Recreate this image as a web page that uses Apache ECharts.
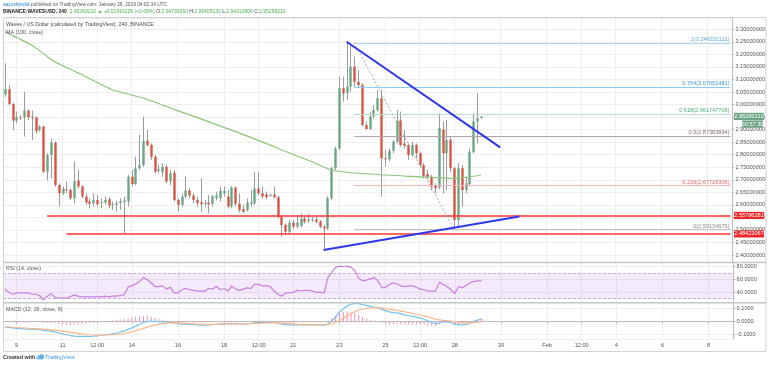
<!DOCTYPE html>
<html><head><meta charset="utf-8">
<script src="https://cdn.jsdelivr.net/npm/echarts@6/dist/echarts.min.js"></script>
<style>html,body{margin:0;padding:0;background:#fff;}#c{width:768px;height:365px;}</style>
</head><body><div id="c"></div>
<script>
// ---------------- DATA ----------------
const startTime = '2019-01-08 12:00';      // first 4h candle (UTC)
const slotCount = 190;                      // 4h slots shown on the time axis

const tickTimes = ['2019-01-09 00:00','2019-01-11 00:00','2019-01-12 12:00','2019-01-14 00:00','2019-01-16 00:00','2019-01-18 00:00','2019-01-19 12:00','2019-01-21 00:00','2019-01-23 00:00','2019-01-25 00:00','2019-01-26 12:00','2019-01-28 00:00','2019-01-30 00:00','2019-02-01 00:00','2019-02-02 12:00','2019-02-04 00:00','2019-02-06 00:00','2019-02-08 00:00'];
const tickLabels = ['9','11','12:00','14','16','18','12:00','21','23','25','12:00','28','30','Feb','12:00','4','6','8'];

const openP = [
3.041,3.061,3.002,2.936,2.949,2.948,2.976,2.949,2.948,2.899,
2.912,2.732,2.799,2.849,2.679,2.646,2.662,2.659,2.626,2.697,
2.673,2.633,2.613,2.606,2.619,2.609,2.609,2.622,2.598,2.600,
2.607,2.611,2.613,2.712,2.683,2.746,2.759,2.855,2.839,2.792,
2.736,2.730,2.752,2.693,2.728,2.619,2.600,2.633,2.657,2.637,
2.619,2.610,2.604,2.609,2.604,2.626,2.626,2.646,2.633,2.593,
2.669,2.604,2.584,2.580,2.604,2.606,2.665,2.646,2.641,2.637,
2.641,2.630,2.553,2.520,2.493,2.530,2.513,2.517,2.546,2.537,
2.540,2.542,2.534,2.513,2.506,2.626,2.746,2.825,3.065,3.045,
3.071,3.151,3.091,3.078,2.918,2.903,2.952,2.978,3.025,2.786,
2.782,2.816,2.852,2.936,2.845,2.839,2.799,2.839,2.806,2.759,
2.723,2.712,2.675,2.670,2.901,2.806,2.859,2.746,2.540,2.746,
2.659,2.683,2.812,2.932,2.9474];
const closeP = [
3.061,3.002,2.936,2.949,2.948,2.976,2.949,2.948,2.895,2.912,
2.732,2.799,2.849,2.679,2.646,2.662,2.659,2.626,2.693,2.673,
2.633,2.609,2.604,2.619,2.602,2.611,2.619,2.597,2.601,2.606,
2.614,2.617,2.712,2.683,2.746,2.759,2.855,2.839,2.792,2.732,
2.742,2.752,2.693,2.726,2.619,2.600,2.633,2.657,2.637,2.619,
2.606,2.602,2.606,2.602,2.633,2.637,2.655,2.655,2.593,2.669,
2.604,2.580,2.573,2.609,2.610,2.665,2.646,2.633,2.630,2.639,
2.630,2.553,2.520,2.493,2.529,2.513,2.530,2.546,2.533,2.540,
2.542,2.533,2.513,2.506,2.626,2.746,2.825,3.065,3.045,3.071,
3.151,3.091,3.078,2.918,2.903,2.952,2.978,3.025,2.786,2.782,
2.816,2.852,2.936,2.839,2.836,2.799,2.839,2.806,2.759,2.715,
2.712,2.673,2.666,2.905,2.806,2.859,2.746,2.540,2.746,2.659,
2.686,2.812,2.932,2.945,2.9527];
const highP = [
3.164,3.078,3.008,2.972,2.958,3.051,2.981,2.976,2.952,2.918,
2.914,2.806,2.865,2.852,2.686,2.673,2.693,2.666,2.772,2.739,
2.679,2.646,2.626,2.646,2.639,2.626,2.633,2.630,2.613,2.617,
2.626,2.633,2.719,2.739,2.792,2.879,2.952,2.899,2.845,2.799,
2.759,2.766,2.759,2.739,2.739,2.626,2.646,2.712,2.666,2.646,
2.633,2.706,2.619,2.639,2.639,2.653,2.673,2.673,2.659,2.675,
2.673,2.646,2.600,2.626,2.659,2.732,2.732,2.673,2.653,2.646,
2.673,2.635,2.560,2.526,2.540,2.540,2.560,2.566,2.553,2.564,
2.553,2.560,2.540,2.520,2.633,2.752,2.832,3.111,3.111,3.251,
3.237,3.191,3.138,3.085,2.932,2.972,2.998,3.058,3.058,2.819,
2.825,2.859,2.978,2.972,2.899,2.845,2.852,2.845,2.812,2.766,
2.739,2.719,2.686,2.965,2.932,2.938,2.872,2.752,2.766,2.759,
2.712,2.825,2.965,3.045,2.9541];
const lowP = [
3.031,2.998,2.899,2.925,2.938,2.872,2.938,2.859,2.885,2.892,
2.726,2.697,2.706,2.673,2.593,2.639,2.646,2.619,2.606,2.666,
2.626,2.600,2.586,2.593,2.593,2.586,2.600,2.586,2.580,2.573,
2.580,2.487,2.593,2.673,2.679,2.739,2.752,2.832,2.779,2.726,
2.726,2.712,2.686,2.679,2.613,2.573,2.593,2.626,2.626,2.606,
2.593,2.573,2.593,2.566,2.593,2.617,2.613,2.633,2.586,2.586,
2.593,2.569,2.566,2.573,2.593,2.600,2.639,2.626,2.622,2.633,
2.626,2.546,2.473,2.480,2.487,2.503,2.506,2.510,2.526,2.529,
2.532,2.526,2.506,2.420,2.500,2.619,2.739,2.819,3.012,3.018,
3.051,3.071,3.065,2.912,2.899,2.899,2.945,2.972,2.633,2.752,
2.772,2.806,2.845,2.832,2.825,2.779,2.792,2.786,2.752,2.706,
2.702,2.659,2.646,2.662,2.646,2.659,2.732,2.503,2.513,2.593,
2.646,2.673,2.806,2.845,2.9431];
const ma100 = [
3.290,3.283,3.275,3.268,3.260,3.253,3.245,3.237,3.226,3.215,
3.204,3.192,3.181,3.170,3.163,3.156,3.148,3.141,3.134,3.127,
3.120,3.112,3.104,3.096,3.089,3.081,3.073,3.066,3.058,3.054,
3.050,3.046,3.042,3.038,3.034,3.030,3.026,3.021,3.015,3.010,
3.004,2.998,2.993,2.987,2.981,2.976,2.970,2.965,2.960,2.954,
2.949,2.943,2.938,2.932,2.926,2.921,2.915,2.909,2.904,2.898,
2.893,2.887,2.881,2.875,2.869,2.863,2.857,2.851,2.845,2.839,
2.833,2.827,2.820,2.814,2.808,2.802,2.796,2.790,2.784,2.778,
2.772,2.765,2.758,2.751,2.745,2.739,2.736,2.734,2.732,2.730,
2.728,2.727,2.726,2.725,2.724,2.723,2.722,2.721,2.720,2.719,
2.718,2.718,2.717,2.716,2.715,2.714,2.714,2.713,2.712,2.711,
2.711,2.710,2.709,2.708,2.708,2.707,2.706,2.706,2.707,2.708,
2.710,2.711,2.714,2.716,2.719];
const rsi14 = [
45,40,37,39,39,39,39,37,37,35,
28,34,38,32,31,31,31,33,36,34,
33,33,33,33,33,33,34,33,34,34,
35,36,48,50,53,57,63,60,55,49,
49,50,45,48,39,39,44,46,44,43,
42,42,42,46,45,49,44,46,42,50,
45,43,45,47,46,53,52,50,50,49,
42,37,34,39,39,40,43,42,43,43,
42,40,40,39,63,71,79,81,80,81,
79,74,62,58,59,61,63,58,47,48,
52,55,53,50,49,50,50,48,45,44,
42,42,42,56,52,49,44,38,49,47,
51,55,57,58,58];
const macdLine = [
-0.044,-0.047,-0.050,-0.054,-0.056,-0.058,-0.060,-0.061,-0.062,-0.064,
-0.070,-0.074,-0.076,-0.082,-0.090,-0.098,-0.104,-0.110,-0.114,-0.116,
-0.117,-0.117,-0.116,-0.115,-0.112,-0.108,-0.104,-0.100,-0.096,-0.090,
-0.082,-0.076,-0.062,-0.050,-0.036,-0.022,-0.008,0.000,0.002,0.000,
-0.002,-0.003,-0.005,-0.007,-0.012,-0.018,-0.020,-0.021,-0.022,-0.025,
-0.027,-0.028,-0.028,-0.026,-0.024,-0.022,-0.018,-0.017,-0.018,-0.016,
-0.015,-0.016,-0.018,-0.017,-0.015,-0.010,-0.008,-0.007,-0.006,-0.006,
-0.008,-0.014,-0.020,-0.025,-0.026,-0.027,-0.027,-0.026,-0.026,-0.026,
-0.026,-0.026,-0.027,-0.029,-0.018,0.005,0.035,0.075,0.100,0.122,
0.136,0.142,0.140,0.132,0.125,0.118,0.113,0.110,0.095,0.085,
0.075,0.070,0.068,0.060,0.052,0.045,0.040,0.034,0.028,0.018,
0.005,-0.008,-0.018,-0.010,0.000,-0.002,-0.010,-0.022,-0.024,-0.026,
-0.022,-0.012,0.000,0.012,0.020];
const signalLine = [
-0.040,-0.042,-0.045,-0.047,-0.049,-0.051,-0.053,-0.055,-0.056,-0.058,
-0.060,-0.062,-0.065,-0.068,-0.072,-0.076,-0.080,-0.085,-0.089,-0.093,
-0.097,-0.101,-0.104,-0.106,-0.107,-0.107,-0.106,-0.105,-0.103,-0.101,
-0.098,-0.094,-0.088,-0.081,-0.073,-0.064,-0.054,-0.045,-0.036,-0.028,
-0.021,-0.016,-0.012,-0.010,-0.010,-0.011,-0.013,-0.015,-0.016,-0.018,
-0.020,-0.021,-0.022,-0.023,-0.023,-0.023,-0.022,-0.021,-0.020,-0.019,
-0.018,-0.018,-0.018,-0.018,-0.017,-0.016,-0.014,-0.012,-0.011,-0.010,
-0.010,-0.011,-0.013,-0.015,-0.017,-0.019,-0.021,-0.022,-0.023,-0.024,
-0.025,-0.025,-0.025,-0.026,-0.024,-0.018,-0.008,0.008,0.026,0.045,
0.063,0.078,0.090,0.098,0.103,0.106,0.107,0.108,0.105,0.101,
0.096,0.091,0.086,0.081,0.075,0.069,0.063,0.057,0.051,0.044,
0.036,0.027,0.018,0.012,0.009,0.007,0.004,-0.001,-0.005,-0.009,
-0.011,-0.011,-0.009,-0.005,0.000];
const macdHist = [
-0.004,-0.005,-0.005,-0.007,-0.007,-0.007,-0.007,-0.006,-0.006,-0.006,
-0.010,-0.012,-0.011,-0.014,-0.018,-0.022,-0.024,-0.025,-0.025,-0.023,
-0.020,-0.016,-0.012,-0.009,-0.005,-0.001,0.002,0.005,0.007,0.011,
0.016,0.018,0.026,0.031,0.037,0.042,0.046,0.045,0.038,0.028,
0.019,0.013,0.007,0.003,-0.002,-0.007,-0.007,-0.006,-0.006,-0.007,
-0.007,-0.007,-0.006,-0.003,-0.001,0.001,0.004,0.004,0.002,0.003,
0.003,0.002,0.000,0.001,0.002,0.006,0.006,0.005,0.005,0.004,
0.002,-0.003,-0.007,-0.010,-0.009,-0.008,-0.006,-0.004,-0.003,-0.002,
-0.001,-0.001,-0.002,-0.003,0.006,0.023,0.043,0.067,0.074,0.077,
0.073,0.064,0.050,0.034,0.022,0.012,0.006,0.002,-0.010,-0.016,
-0.021,-0.021,-0.018,-0.021,-0.023,-0.024,-0.023,-0.023,-0.023,-0.026,
-0.031,-0.035,-0.036,-0.022,-0.009,-0.009,-0.014,-0.021,-0.019,-0.017,
-0.011,-0.001,0.009,0.017,0.020];

// Fibonacci retracement drawing
const fibStartIndex = 91;
const fibPrices = [3.246331112, 3.07051481, 2.961747709, 2.87383894, 2.67716306, 2.50134675];
const fibLabels = ['1(3.246331112)','0.764(3.07051481)','0.618(2.961747709)','0.5(2.87383894)','0.236(2.67716306)','0(2.50134675)'];
const fibLineColors = ['#a9d8f0','#8ecbf2','#b3e2c2','#b6a2ab','#f2b6b6','#c4c4c4'];
const fibTextColors = ['#58ade0','#3b97d6','#4aad76','#86697a','#e06767','#8a8a8a'];
const fibAnchor = [[91, 3.246331112], [117, 2.50134675]];
// Horizontal support lines
const supportPrices = [2.55786281, 2.48423067];
const supportLabels = ['2.55786281','2.48423067'];
const supportStartIndex = [11, 16];
// Trend lines [index, price]
const trendDown = [[89, 3.2506], [129, 2.8291]];
const trendUp = [[83, 2.420], [134, 2.5536]];
// Last price / countdown
const lastPriceLabel = '2.95269210';
const countdownLabel = '00:57:30';

// ---------------- BUILD ----------------
function fmt(d){const p=n=>String(n).padStart(2,'0');return d.getUTCFullYear()+'-'+p(d.getUTCMonth()+1)+'-'+p(d.getUTCDate())+' '+p(d.getUTCHours())+':'+p(d.getUTCMinutes());}
const t0 = Date.parse(startTime.replace(' ','T')+':00Z');
const cats = [];
for (let k=0;k<slotCount;k++) cats.push(fmt(new Date(t0 + k*4*3600*1000)));
const lastCat = cats[slotCount-1];
const tickMap = {}; tickTimes.forEach((t,i)=>tickMap[t]=tickLabels[i]);
const isTick = (idx,val)=>Object.prototype.hasOwnProperty.call(tickMap,val);

const FONT = 'Liberation Sans, Arial, sans-serif';
const candleData = openP.map((o,i)=>[i,o,closeP[i],lowP[i],highP[i]]);

const gridL = 3, gridR = 34.4;
const grids = [
  {left:gridL,right:gridR,top:18,height:244.5},
  {left:gridL,right:gridR,top:262.5,height:40.2},
  {left:gridL,right:gridR,top:302.7,height:36.3}
];
const gl = '#efefef';
function xAx(gi, bottom){
  return {type:'category',gridIndex:gi,data:cats,boundaryGap:true,
    axisLine:{show:bottom,lineStyle:{color:'#bcbcbc'}},
    axisTick:{show:bottom,interval:isTick,alignWithLabel:true,length:2.5,lineStyle:{color:'#bcbcbc'}},
    axisLabel:{show:bottom,interval:isTick,formatter:v=>tickMap[v]||'',fontSize:5.6,color:'#555',margin:3,fontFamily:FONT},
    splitLine:{show:true,interval:isTick,alignWithLabel:true,lineStyle:{color:gl,width:1}}};
}
function yAx(gi,min,max,split,dec){
  return {type:'value',gridIndex:gi,position:'right',min:min,max:max,splitNumber:split,
    axisLine:{show:true,lineStyle:{color:'#bcbcbc'}},
    axisTick:{show:true,length:2,lineStyle:{color:'#bcbcbc'}},
    axisLabel:{fontSize:5.6,color:'#555',margin:3,fontFamily:FONT,formatter:v=>v.toFixed(dec),showMinLabel:false,showMaxLabel:false},
    splitLine:{show:true,lineStyle:{color:gl,width:1}}};
}

const mainMarks = [];
fibPrices.forEach((p,i)=>{
  mainMarks.push([{coord:[cats[fibStartIndex],p],lineStyle:{color:fibLineColors[i],width:1,type:'solid'},
     label:{show:true,position:'insideEndTop',distance:[1,0.5],formatter:fibLabels[i],color:fibTextColors[i],fontSize:5.6,fontFamily:FONT}},
    {coord:[lastCat,p]}]);
});
supportPrices.forEach((p,i)=>{
  mainMarks.push([{coord:[cats[supportStartIndex[i]],p],lineStyle:{color:'#ff3535',width:1.5,type:'solid'},label:{show:false}},{coord:[lastCat,p]}]);
});
mainMarks.push([{coord:[cats[fibAnchor[0][0]],fibAnchor[0][1]],lineStyle:{color:'#a8a8a8',width:1,type:[2,2]},label:{show:false}},{coord:[cats[fibAnchor[1][0]],fibAnchor[1][1]]}]);
[trendDown,trendUp].forEach(t=>{
  mainMarks.push([{coord:[cats[t[0][0]],t[0][1]],lineStyle:{color:'#2f37ec',width:2,type:'solid'},label:{show:false}},{coord:[cats[t[1][0]],t[1][1]]}]);
});

const option = {
  animation:false,
  backgroundColor:'#ffffff',
  grid:grids,
  xAxis:[xAx(0,false),xAx(1,false),xAx(2,true)],
  yAxis:[yAx(0,2.3702,3.3451,18,8),yAx(1,23.75,86.6,3,4),yAx(2,-0.1372,0.1474,3,4)],
  series:[
    {type:'custom',name:'candles',xAxisIndex:0,yAxisIndex:0,data:candleData,encode:{x:0,y:[1,2,3,4]},z:2,clip:true,
     renderItem:function(params,api){
       const x=api.value(0),o=api.value(1),c=api.value(2);
       const po=api.coord([x,o]),pc=api.coord([x,c]),pl=api.coord([x,api.value(3)]),ph=api.coord([x,api.value(4)]);
       const w=api.size([1,0])[0]*0.62;
       const cx=Math.round(po[0])+0.5;
       const up=c>=o;
       const top=Math.min(po[1],pc[1]),bot=Math.max(po[1],pc[1]);
       return {type:'group',children:[
         {type:'line',shape:{x1:cx,y1:ph[1],x2:cx,y2:pl[1]},style:{stroke:'#9a9a9a',lineWidth:1}},
         {type:'rect',shape:{x:cx-w/2,y:top,width:w,height:Math.max(bot-top,1)},style:{fill:up?'#6ba583':'#d75442'}}
       ]};
     }},
    {type:'line',name:'MA',xAxisIndex:0,yAxisIndex:0,data:ma100,symbol:'none',z:3,
     lineStyle:{color:'#8cc47a',width:1.2},
     markLine:{silent:true,symbol:'none',animation:false,data:mainMarks}},
    {type:'line',name:'RSI',xAxisIndex:1,yAxisIndex:1,data:rsi14,symbol:'none',z:3,
     lineStyle:{color:'#c77fdd',width:1.2},
     markArea:{silent:true,itemStyle:{color:'rgba(165,100,235,0.13)'},data:[[{yAxis:30},{yAxis:70}]]},
     markLine:{silent:true,symbol:'none',label:{show:false},lineStyle:{color:'#c6aed6',type:[3,2],width:1},data:[{yAxis:70},{yAxis:30}]}},
    {type:'bar',name:'Hist',xAxisIndex:2,yAxisIndex:2,data:macdHist,barWidth:1,z:2,
     itemStyle:{color:'#f48fb1'}},
    {type:'line',name:'MACD',xAxisIndex:2,yAxisIndex:2,data:macdLine,symbol:'none',z:3,lineStyle:{color:'#74c2f2',width:1.2}},
    {type:'line',name:'Signal',xAxisIndex:2,yAxisIndex:2,data:signalLine,symbol:'none',z:3,lineStyle:{color:'#fbb689',width:1.2}}
  ]
};

const chart = echarts.init(document.getElementById('c'),null,{renderer:'canvas'});
chart.setOption(option);

function tag(value,text,bg,dy,x,w){
  const y=chart.convertToPixel({yAxisIndex:0},value)+(dy||0);
  return {type:'group',z:100,children:[
    {type:'rect',z:100,shape:{x:x,y:y-3.6,width:w,height:7.2},style:{fill:bg}},
    {type:'text',z:101,x:x+w/2,y:y,style:{text:text,fill:'#fff',font:'5.6px '+FONT,align:'center',verticalAlign:'middle',textAlign:'center',textVerticalAlign:'middle'}}
  ]};
}
function txt(x,y,text,fill,size,weight,rich){
  const s={text:text,fill:fill,font:(weight?weight+' ':'')+size+'px '+FONT,align:'left',verticalAlign:'middle',textAlign:'left',textVerticalAlign:'middle'};
  if(rich) s.rich=rich;
  return {type:'text',z:100,x:x,y:y,style:s};
}
const G='#4caf50';
const graphics=[
  {type:'rect',z:90,shape:{x:3.5,y:17.5,width:762.5,height:334},style:{fill:'none',stroke:'#d2d2d2',lineWidth:1}},
  {type:'line',z:90,shape:{x1:3,y1:262.5,x2:766,y2:262.5},style:{stroke:'#c6c6c6',lineWidth:1.5}},
  {type:'line',z:90,shape:{x1:3,y1:302.7,x2:766,y2:302.7},style:{stroke:'#c6c6c6',lineWidth:1.5}},
  txt(3,5,'{a|aayushjindal}{b| published on TradingView.com, January 29, 2019 04:02:34 UTC}','#555',4.8,null,
      {a:{fill:'#2b86d9',font:'4.8px '+FONT},b:{fill:'#555',font:'4.8px '+FONT}}),
  txt(3,12,'{b|BINANCE:WAVESUSD, 240}  {g|2.95269210 ▲ +0.01916226 (+0.65%)} {d|O:}{g|2.94739360} {d|H:}{g|2.95405130} {d|L:}{g|2.94313808} {d|C:}{g|2.95269210}','#333',5,null,
      {b:{fill:'#222',font:'bold 5px '+FONT},g:{fill:G,font:'5px '+FONT},d:{fill:'#333',font:'5px '+FONT}}),
  txt(6,25,'Waves / US Dollar (calculated by TradingView), 240, BINANCE','#4a4a4a',5.3),
  txt(6,32.5,'MA (100, close)','#555',5.3),
  txt(6,269,'RSI (14, close)','#555',5.3),
  txt(6,309.5,'MACD (12, 26, close, 9)','#555',5.3),
  txt(3,357.5,'Created with','#333',5.4,'bold'),
  {type:'circle',z:100,shape:{cx:38.5,cy:357.5,r:2.3},style:{fill:'#8cc8ee'}},
  {type:'circle',z:100,shape:{cx:41.5,cy:356.8,r:2.6},style:{fill:'#5eb0e5'}},
  txt(45,357.5,'TradingView','#3d9ae0',5.4),
  tag(closeP[closeP.length-1],lastPriceLabel,'#6ba583',0,734,30),
  tag(closeP[closeP.length-1],countdownLabel,'#6ba583',7.6,742,21),
  tag(supportPrices[0],supportLabels[0],'#f0262b',0,734,30),
  tag(supportPrices[1],supportLabels[1],'#f0262b',0,734,30)
];
chart.setOption({graphic:graphics});
</script></body></html>
